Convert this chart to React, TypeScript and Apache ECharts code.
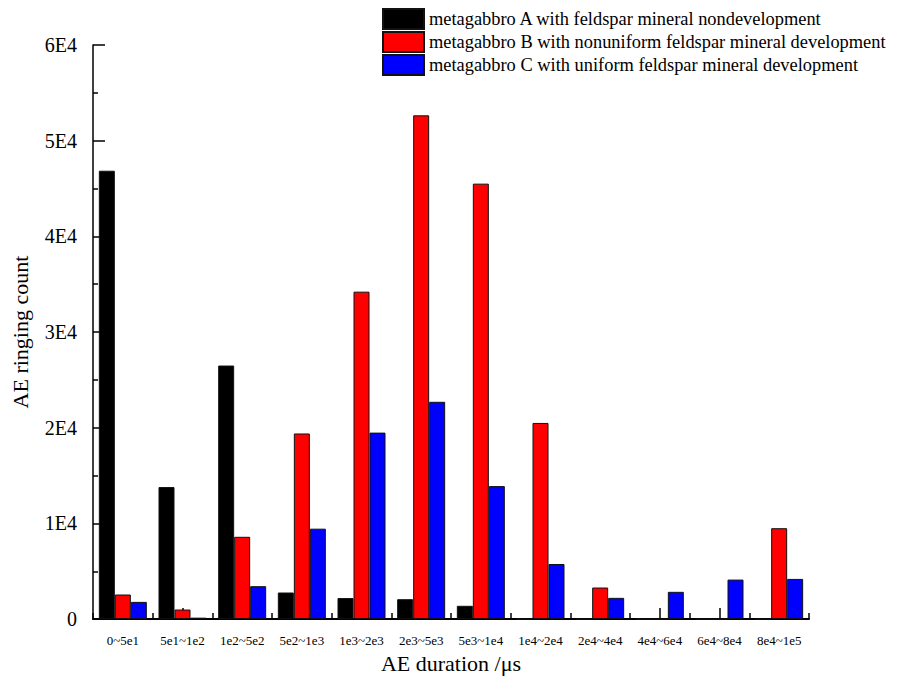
import React, { useEffect, useRef } from "react";
import * as echarts from "echarts";

const categories = [
  "0~5e1", "5e1~1e2", "1e2~5e2", "5e2~1e3", "1e3~2e3", "2e3~5e3",
  "5e3~1e4", "1e4~2e4", "2e4~4e4", "4e4~6e4", "6e4~8e4", "8e4~1e5",
];
const seriesNames = [
  "metagabbro A with feldspar mineral nondevelopment",
  "metagabbro B with nonuniform feldspar mineral development",
  "metagabbro C with uniform feldspar mineral development",
];
const valuesA = [46860, 13800, 26500, 2780, 2200, 2080, 1390, 0, 0, 0, 0, 0];
const valuesB = [2570, 1000, 8600, 19400, 34220, 52650, 45510, 20500, 3300, 0, 0, 9500];
const valuesC = [1800, 150, 3440, 9450, 19490, 22710, 13900, 5760, 2220, 2850, 4130, 4200];
const yTickLabels: Record<number, string> = {
  0: "0", 10000: "1E4", 20000: "2E4", 30000: "3E4", 40000: "4E4", 50000: "5E4", 60000: "6E4",
};

const FONT = '"Liberation Serif", "Times New Roman", serif';
const colors = ["#000000", "#ff0000", "#0000ff"];

export default function App() {
  const ref = useRef<HTMLDivElement>(null);
  useEffect(() => {
    document.body.style.margin = "0";
    const chart = echarts.init(ref.current!, undefined, { renderer: "svg" });
    const data = [valuesA, valuesB, valuesC];
    chart.setOption({
      animation: false,
      backgroundColor: "#ffffff",
      textStyle: { fontFamily: FONT },
      legend: {
        orient: "vertical",
        left: 382,
        top: 8,
        padding: 0,
        itemWidth: 41,
        itemHeight: 20,
        itemGap: 1,
        icon: "rect",
        textStyle: { fontFamily: FONT, fontSize: 18.4, color: "#000" },
        data: seriesNames,
      },
      grid: { left: 93, right: 98, top: 45, bottom: 45, containLabel: false },
      xAxis: [
        {
          type: "category",
          data: categories,
          position: "bottom",
          axisLine: { show: true, lineStyle: { color: "#000", width: 2 } },
          axisTick: { show: true, inside: true, alignWithLabel: true, length: 11, interval: 0, lineStyle: { color: "#000", width: 1.5 } },
          axisLabel: { interval: 0, fontFamily: FONT, fontSize: 13, color: "#000", margin: 15 },
          name: "AE duration /μs",
          nameLocation: "middle",
          nameGap: 28,
          nameTextStyle: { fontFamily: FONT, fontSize: 22, color: "#000" },
          splitLine: { show: false },
        },
        {
          type: "category",
          data: categories,
          position: "bottom",
          axisLine: { show: false },
          axisTick: { show: true, inside: true, length: 6, interval: 0, lineStyle: { color: "#000", width: 1.5 } },
          axisLabel: { show: false },
          splitLine: { show: false },
        },
      ],
      yAxis: {
        type: "value",
        min: 0,
        max: 60000,
        interval: 10000,
        axisLine: { show: true, lineStyle: { color: "#000", width: 1.5 } },
        axisTick: { show: true, inside: true, length: 12, lineStyle: { color: "#000", width: 1.5 } },
        minorTick: { show: true, splitNumber: 2, length: 5, lineStyle: { color: "#000", width: 1.5 } },
        axisLabel: {
          fontFamily: FONT,
          fontSize: 20,
          color: "#000",
          margin: 16,
          formatter: (v: number) => yTickLabels[v] ?? String(v),
        },
        splitLine: { show: false },
        name: "AE ringing count",
        nameLocation: "middle",
        nameGap: 62,
        nameTextStyle: { fontFamily: FONT, fontSize: 22, color: "#000" },
      },
      series: seriesNames.map((name, i) => ({
        name,
        type: "bar",
        xAxisIndex: 0,
        data: data[i],
        barWidth: 16,
        barGap: "0%",
        itemStyle: { color: colors[i], borderColor: "#111", borderWidth: 1 },
      })),
    });
    return () => chart.dispose();
  }, []);
  return <div ref={ref} style={{ width: 907, height: 679 }} />;
}
